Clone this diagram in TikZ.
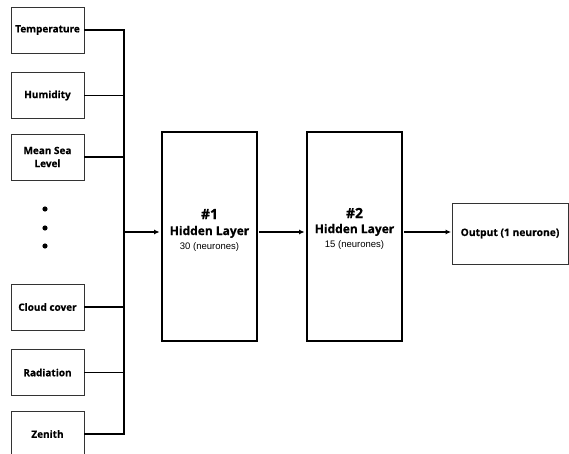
\documentclass[tikz,border=0pt]{standalone}
\usepackage{fontspec}
\newfontfamily\boxfont[BoldFeatures={FakeBold=0.5}]{Open Sans}
\newfontfamily\subfont{Liberation Sans}
\usetikzlibrary{arrows.meta}

\tikzset{
	inbox/.style={shape=rectangle, draw=black!80, line width=0.9pt, inner sep=0, minimum width=73pt, minimum height=46pt, align=center, font=\boxfont\bfseries\fontsize{10}{12}\selectfont},
	hiddenbox/.style={shape=rectangle, draw, line width=2.4pt, inner sep=0, minimum width=95pt, minimum height=209pt},
	outbox/.style={shape=rectangle, draw=black!80, line width=0.9pt, inner sep=0, minimum width=116pt, minimum height=61pt, font=\boxfont\bfseries\fontsize{10.3}{12}\selectfont},
	wire/.style={line width=1.2pt},
	arrow/.style={wire, -{Latex[length=5.5pt, width=5pt]}}
}

\begin{document}
\begin{tikzpicture}[x=1pt, y=-1pt]
	\useasboundingbox (0,0) rectangle (569,454);
	% Input boxes:
	\node[inbox](Temp) at (47.5, 30){Temperature};
	\node[inbox](Hum) at (47.5, 95.5){Humidity};
	\node[inbox](MSL) at (47.5, 157){Mean Sea\\[1pt]Level};
	\node[inbox](Cloud) at (47.5, 307){Cloud cover};
	\node[inbox](Rad) at (47.5, 372.5){Radiation};
	\node[inbox](Zen) at (47.5, 434){Zenith};
	\fill (45, 209) circle (2.6pt) (45, 228) circle (2.6pt) (45, 246) circle (2.6pt);
	% Bus:
	\coordinate (BusTop) at (124, 30);
	\coordinate (BusBot) at (124, 434);
	\coordinate (BusOut) at (124, 232);
	\draw[wire] (Temp.east) -- (BusTop) -- (BusBot) -- (Zen.east);
	\draw[wire] (Hum.east) -- (Hum.east -| BusTop);
	\draw[wire] (MSL.east) -- (MSL.east -| BusTop);
	\draw[wire] (Cloud.east) -- (Cloud.east -| BusTop);
	\draw[wire] (Rad.east) -- (Rad.east -| BusTop);
	% Hidden layers and output:
	\node[hiddenbox](H1) at (209.5, 236.5){};
	\node[align=center, inner sep=0](H1text) at (209.5, 230){\boxfont\bfseries\fontsize{14}{15}\selectfont \#1\\[4pt]\boxfont\bfseries\fontsize{12}{12}\selectfont Hidden Layer\\[2pt]\subfont\fontsize{9.5}{10}\selectfont 30 (neurones)};
	\node[hiddenbox](H2) at (354.5, 236.5){};
	\node[align=center, inner sep=0](H2text) at (354.5, 228.5){\boxfont\bfseries\fontsize{14}{15}\selectfont \#2\\[3pt]\boxfont\bfseries\fontsize{12}{12}\selectfont Hidden Layer\\[2pt]\subfont\fontsize{9.5}{10}\selectfont 15 (neurones)};
	\node[outbox](Out) at (510, 233.5){Output (1 neurone)};
	\draw[arrow, shorten >=1.2pt] (BusOut) -- (BusOut -| H1.west);
	\draw[arrow, shorten >=1.2pt, shorten <=1.2pt] (H1.east |- BusOut) -- (H2.west |- BusOut);
	\draw[arrow, shorten >=0.45pt, shorten <=1.2pt] (H2.east |- BusOut) -- (Out.west |- BusOut);
\end{tikzpicture}
\end{document}
